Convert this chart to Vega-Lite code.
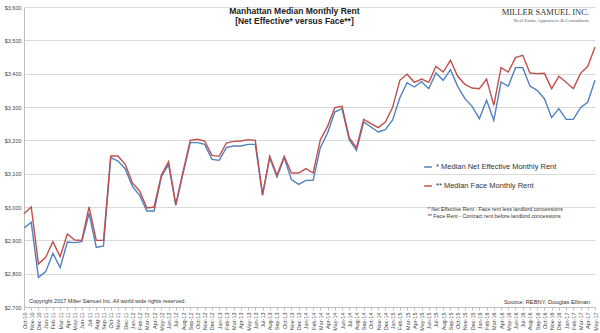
{
  "$schema": "https://vega.github.io/schema/vega-lite/v6.json",
  "width": 571,
  "height": 300,
  "autosize": {"type": "none"},
  "padding": {"left": 24, "top": 7, "right": 5, "bottom": 26},
  "background": "white",
  "config": {
    "view": {"stroke": null},
    "font": "Liberation Sans",
    "text": {"font": "Liberation Sans"},
    "axisY": {
      "title": null,
      "labelFontSize": 5.5,
      "labelColor": "#444444",
      "labelPadding": 3,
      "labelOverlap": false,
      "labelFlush": false,
      "ticks": false,
      "domainColor": "#bfbfbf",
      "gridColor": "#d9d9d9",
      "gridWidth": 1,
      "tickCount": 10
    }
  },
  "data": {
    "values": [
      {"m": "Oct-10", "net": 2937, "face": 2980},
      {"m": "Nov-10", "net": 2954, "face": 3000},
      {"m": "Dec-10", "net": 2789, "face": 2829},
      {"m": "Jan-11", "net": 2806, "face": 2849},
      {"m": "Feb-11", "net": 2861, "face": 2896},
      {"m": "Mar-11", "net": 2818, "face": 2851},
      {"m": "Apr-11", "net": 2895, "face": 2919},
      {"m": "May-11", "net": 2893, "face": 2901},
      {"m": "Jun-11", "net": 2896, "face": 2900},
      {"m": "Jul-11", "net": 2981, "face": 3000},
      {"m": "Aug-11", "net": 2879, "face": 2900},
      {"m": "Sep-11", "net": 2883, "face": 2900},
      {"m": "Oct-11", "net": 3148, "face": 3153},
      {"m": "Nov-11", "net": 3138, "face": 3153},
      {"m": "Dec-11", "net": 3115, "face": 3128},
      {"m": "Jan-12", "net": 3062, "face": 3072},
      {"m": "Feb-12", "net": 3035, "face": 3048},
      {"m": "Mar-12", "net": 2988, "face": 2997},
      {"m": "Apr-12", "net": 2988, "face": 3000},
      {"m": "May-12", "net": 3090, "face": 3095},
      {"m": "Jun-12", "net": 3128, "face": 3136},
      {"m": "Jul-12", "net": 3005, "face": 3008},
      {"m": "Aug-12", "net": 3100, "face": 3105},
      {"m": "Sep-12", "net": 3193, "face": 3200},
      {"m": "Oct-12", "net": 3193, "face": 3203},
      {"m": "Nov-12", "net": 3188, "face": 3198},
      {"m": "Dec-12", "net": 3143, "face": 3155},
      {"m": "Jan-13", "net": 3140, "face": 3152},
      {"m": "Feb-13", "net": 3178, "face": 3192},
      {"m": "Mar-13", "net": 3183, "face": 3197},
      {"m": "Apr-13", "net": 3183, "face": 3198},
      {"m": "May-13", "net": 3188, "face": 3202},
      {"m": "Jun-13", "net": 3188, "face": 3200},
      {"m": "Jul-13", "net": 3035, "face": 3037},
      {"m": "Aug-13", "net": 3148, "face": 3152},
      {"m": "Sep-13", "net": 3090, "face": 3095},
      {"m": "Oct-13", "net": 3148, "face": 3152},
      {"m": "Nov-13", "net": 3082, "face": 3102},
      {"m": "Dec-13", "net": 3068, "face": 3102},
      {"m": "Jan-14", "net": 3080, "face": 3115},
      {"m": "Feb-14", "net": 3080, "face": 3102},
      {"m": "Mar-14", "net": 3178, "face": 3202},
      {"m": "Apr-14", "net": 3222, "face": 3242},
      {"m": "May-14", "net": 3285, "face": 3298},
      {"m": "Jun-14", "net": 3295, "face": 3302},
      {"m": "Jul-14", "net": 3202, "face": 3207},
      {"m": "Aug-14", "net": 3170, "face": 3178},
      {"m": "Sep-14", "net": 3255, "face": 3263},
      {"m": "Oct-14", "net": 3240, "face": 3250},
      {"m": "Nov-14", "net": 3225, "face": 3238},
      {"m": "Dec-14", "net": 3232, "face": 3255},
      {"m": "Jan-15", "net": 3261, "face": 3299},
      {"m": "Feb-15", "net": 3328, "face": 3380},
      {"m": "Mar-15", "net": 3373, "face": 3398},
      {"m": "Apr-15", "net": 3360, "face": 3374},
      {"m": "May-15", "net": 3376, "face": 3384},
      {"m": "Jun-15", "net": 3355, "face": 3374},
      {"m": "Jul-15", "net": 3402, "face": 3422},
      {"m": "Aug-15", "net": 3380, "face": 3405},
      {"m": "Sep-15", "net": 3412, "face": 3440},
      {"m": "Oct-15", "net": 3362, "face": 3392},
      {"m": "Nov-15", "net": 3325, "face": 3368},
      {"m": "Dec-15", "net": 3302, "face": 3357},
      {"m": "Jan-16", "net": 3265, "face": 3355},
      {"m": "Feb-16", "net": 3320, "face": 3384},
      {"m": "Mar-16", "net": 3260, "face": 3305},
      {"m": "Apr-16", "net": 3375, "face": 3418},
      {"m": "May-16", "net": 3362, "face": 3405},
      {"m": "Jun-16", "net": 3418, "face": 3448},
      {"m": "Jul-16", "net": 3418, "face": 3455},
      {"m": "Aug-16", "net": 3363, "face": 3402},
      {"m": "Sep-16", "net": 3350, "face": 3400},
      {"m": "Oct-16", "net": 3325, "face": 3401},
      {"m": "Nov-16", "net": 3268, "face": 3355},
      {"m": "Dec-16", "net": 3295, "face": 3392},
      {"m": "Jan-17", "net": 3263, "face": 3374},
      {"m": "Feb-17", "net": 3263, "face": 3355},
      {"m": "Mar-17", "net": 3298, "face": 3401},
      {"m": "Apr-17", "net": 3315, "face": 3422},
      {"m": "May-17", "net": 3380, "face": 3480}
    ]
  },
  "encoding": {
    "x": {
      "field": "m",
      "type": "ordinal",
      "sort": null,
      "scale": {"type": "point", "padding": 0},
      "axis": {
        "title": null,
        "labelAngle": -90,
        "labelFontSize": 5.5,
        "labelColor": "#444444",
        "labelPadding": 2,
        "ticks": true,
        "tickSize": 3,
        "tickColor": "#bfbfbf",
        "domainColor": "#bfbfbf",
        "grid": false,
        "labelOverlap": false
      }
    }
  },
  "layer": [
    {
      "transform": [{"fold": ["net", "face"], "as": ["series", "value"]}],
      "mark": {"type": "line", "strokeWidth": 1.4},
      "encoding": {
        "y": {
          "field": "value",
          "type": "quantitative",
          "scale": {"domain": [2700, 3600], "nice": false, "zero": false},
          "axis": {"format": "$,.0f", "values": [2700, 2800, 2900, 3000, 3100, 3200, 3300, 3400, 3500, 3600]}
        },
        "color": {
          "field": "series",
          "type": "nominal",
          "scale": {"domain": ["net", "face"], "range": ["#4F81BD", "#C0504D"]},
          "legend": {
            "title": null,
            "orient": "none",
            "legendX": 399,
            "legendY": 155,
            "padding": 0,
            "symbolType": "stroke",
            "symbolSize": 60,
            "symbolStrokeWidth": 1.5,
            "labelFontSize": 7.5,
            "labelColor": "#333333",
            "labelOffset": 3,
            "rowPadding": 10,
            "labelExpr": "datum.label == 'net' ? '* Median Net Effective Monthly Rent' : '** Median Face Monthly Rent'"
          }
        }
      }
    },
    {
      "data": {"values": [{}]},
      "mark": {"type": "text", "fontSize": 8.5, "fontWeight": "bold", "color": "#222222", "align": "center", "baseline": "middle", "dx": 3},
      "encoding": {"x": {"datum": "Nov-13"}, "y": {"datum": 3588, "axis": {"format": "$,.0f", "values": [2700, 2800, 2900, 3000, 3100, 3200, 3300, 3400, 3500, 3600]}}, "text": {"value": "Manhattan Median Monthly Rent"}}
    },
    {
      "data": {"values": [{}]},
      "mark": {"type": "text", "fontSize": 8.5, "fontWeight": "bold", "color": "#222222", "align": "center", "baseline": "middle", "dx": 3},
      "encoding": {"x": {"datum": "Nov-13"}, "y": {"datum": 3558, "axis": {"format": "$,.0f", "values": [2700, 2800, 2900, 3000, 3100, 3200, 3300, 3400, 3500, 3600]}}, "text": {"value": "[Net Effective* versus Face**]"}}
    },
    {
      "data": {"values": [{}]},
      "mark": {"type": "text", "font": "Liberation Serif", "fontSize": 8.5, "color": "#333333", "align": "right", "baseline": "middle", "dx": -6},
      "encoding": {"x": {"datum": "May-17"}, "y": {"datum": 3585, "axis": {"format": "$,.0f", "values": [2700, 2800, 2900, 3000, 3100, 3200, 3300, 3400, 3500, 3600]}}, "text": {"value": "MILLER SAMUEL INC."}}
    },
    {
      "data": {"values": [{}]},
      "mark": {"type": "text", "font": "Liberation Serif", "fontSize": 5, "color": "#666666", "align": "right", "baseline": "middle", "dx": -6},
      "encoding": {"x": {"datum": "May-17"}, "y": {"datum": 3562, "axis": {"format": "$,.0f", "values": [2700, 2800, 2900, 3000, 3100, 3200, 3300, 3400, 3500, 3600]}}, "text": {"value": "Real Estate Appraisers & Consultants"}}
    },
    {
      "data": {"values": [{}]},
      "mark": {"type": "text", "fontSize": 5.3, "color": "#333333", "align": "left", "baseline": "middle", "dx": -1},
      "encoding": {"x": {"datum": "Jun-15"}, "y": {"datum": 2993, "axis": {"format": "$,.0f", "values": [2700, 2800, 2900, 3000, 3100, 3200, 3300, 3400, 3500, 3600]}}, "text": {"value": "* Net Effective Rent - Face rent less landlord concessions"}}
    },
    {
      "data": {"values": [{}]},
      "mark": {"type": "text", "fontSize": 5.3, "color": "#333333", "align": "left", "baseline": "middle", "dx": -1},
      "encoding": {"x": {"datum": "Jun-15"}, "y": {"datum": 2972, "axis": {"format": "$,.0f", "values": [2700, 2800, 2900, 3000, 3100, 3200, 3300, 3400, 3500, 3600]}}, "text": {"value": "** Face Rent - Contract rent before landlord concessions"}}
    },
    {
      "data": {"values": [{}]},
      "mark": {"type": "text", "fontSize": 5.5, "color": "#333333", "align": "left", "baseline": "middle", "dx": 5},
      "encoding": {"x": {"datum": "Oct-10"}, "y": {"datum": 2719, "axis": {"format": "$,.0f", "values": [2700, 2800, 2900, 3000, 3100, 3200, 3300, 3400, 3500, 3600]}}, "text": {"value": "Copyright 2017 Miller Samuel Inc.  All world wide rights reserved."}}
    },
    {
      "data": {"values": [{}]},
      "mark": {"type": "text", "fontSize": 5.8, "color": "#333333", "align": "right", "baseline": "middle", "dx": -5},
      "encoding": {"x": {"datum": "May-17"}, "y": {"datum": 2714, "axis": {"format": "$,.0f", "values": [2700, 2800, 2900, 3000, 3100, 3200, 3300, 3400, 3500, 3600]}}, "text": {"value": "Source: REBNY, Douglas Elliman"}}
    }
  ]
}
